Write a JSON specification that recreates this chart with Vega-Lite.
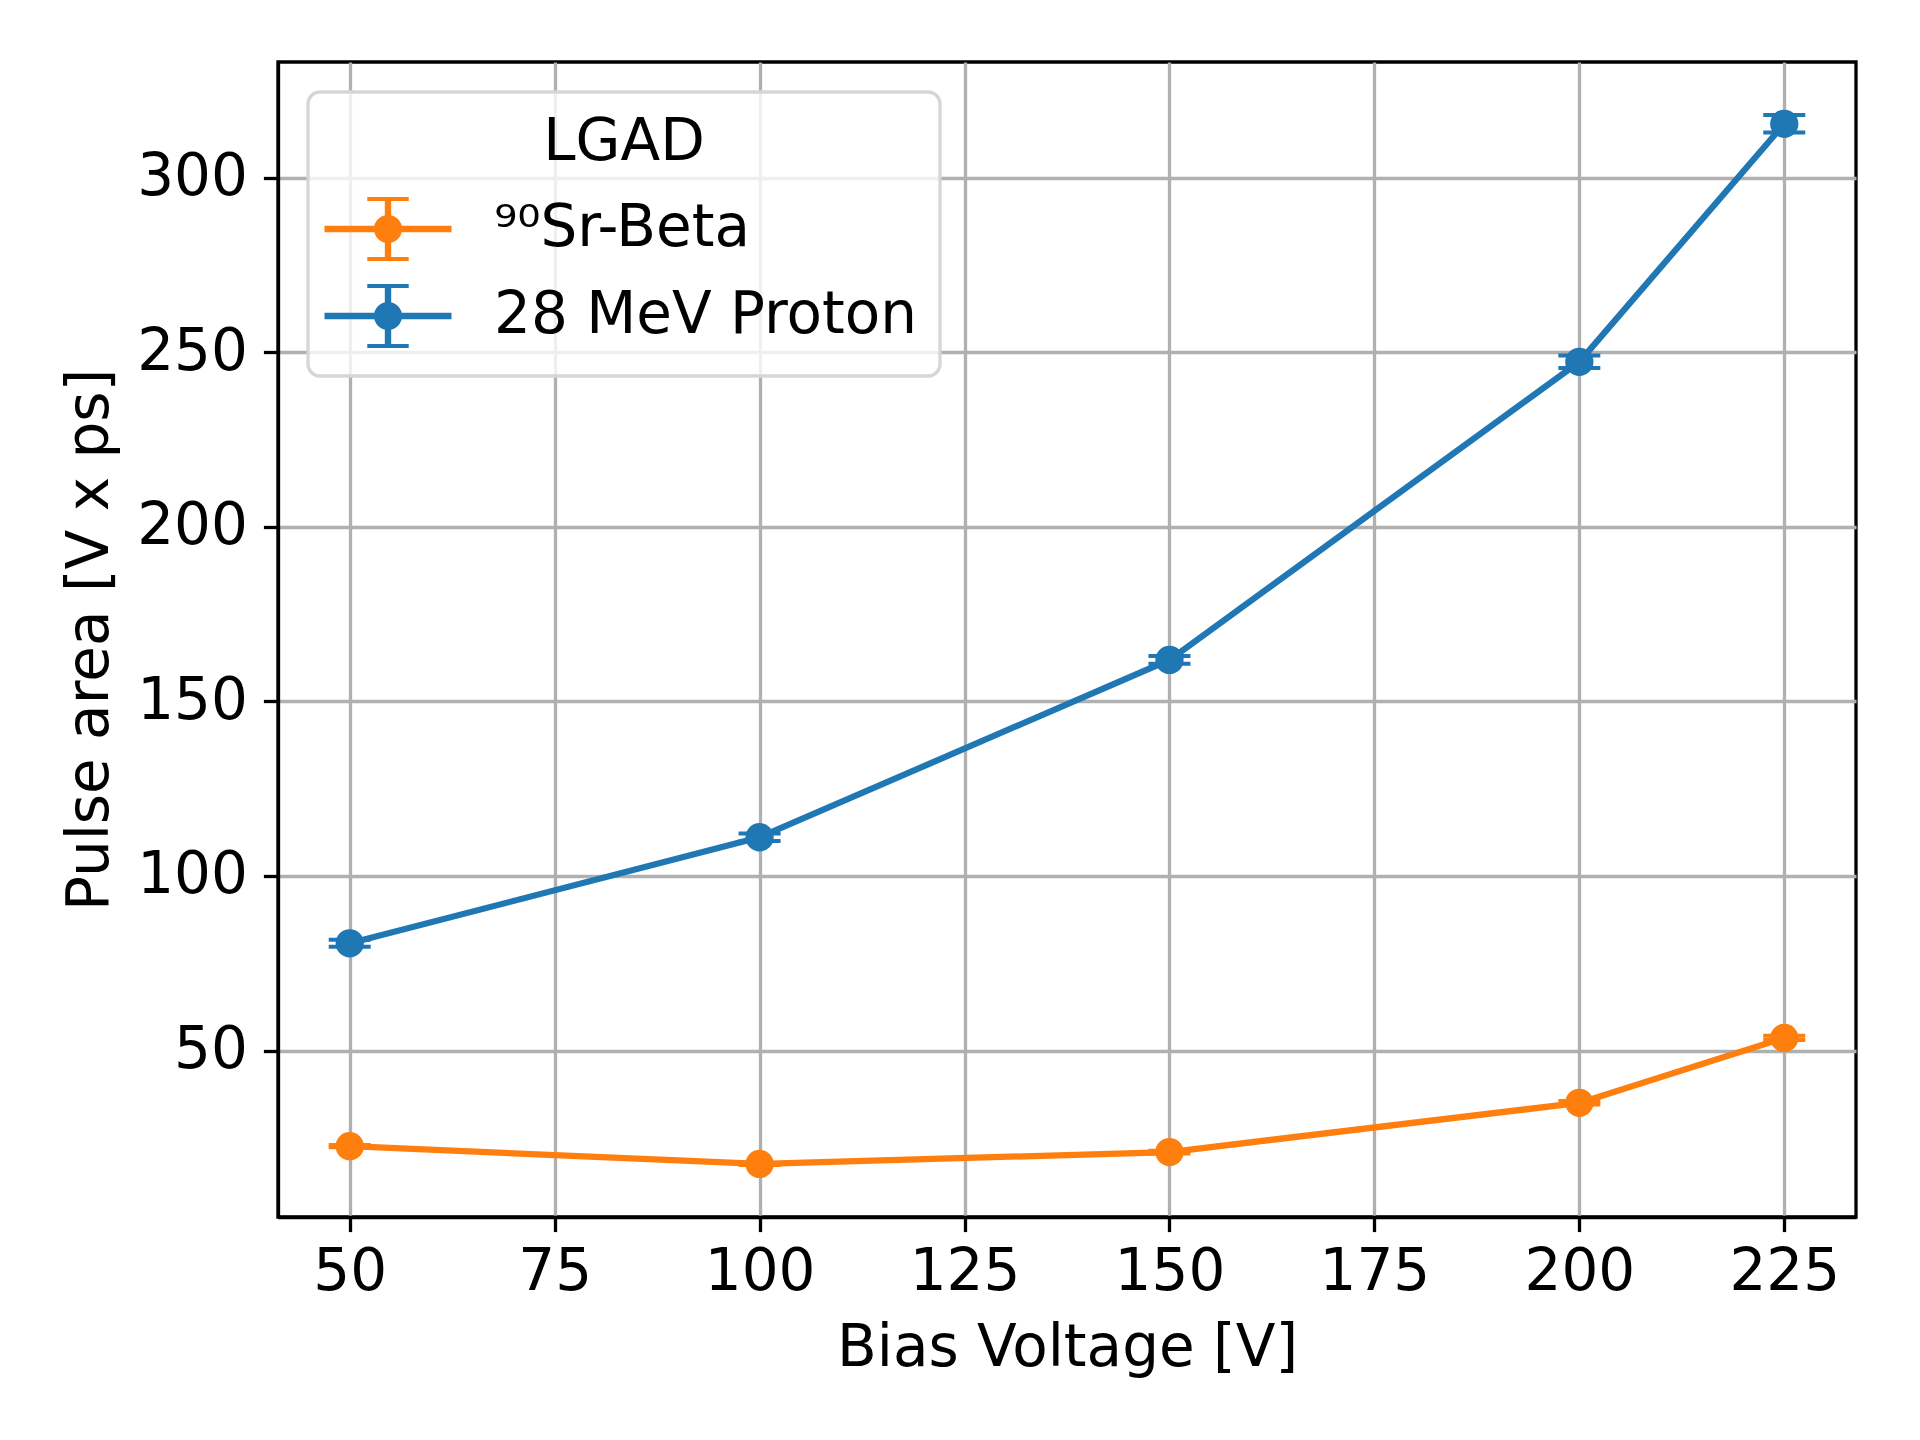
{
  "$schema": "https://vega.github.io/schema/vega-lite/v6.json",
  "width": 1578,
  "height": 1155,
  "autosize": {"type": "none"},
  "padding": {"left": 278, "top": 62, "right": 64, "bottom": 223},
  "background": "white",
  "config": {
    "font": "DejaVu Sans",
    "view": {"stroke": "black", "strokeWidth": 3.3},
    "axis": {
      "domainColor": "black", "domainWidth": 3.3,
      "tickColor": "black", "tickWidth": 3.3, "tickSize": 14.6,
      "labelFont": "DejaVu Sans", "labelFontSize": 58, "labelColor": "black",
      "titleFont": "DejaVu Sans", "titleFontSize": 58, "titleFontWeight": "normal", "titleColor": "black",
      "gridColor": "#b0b0b0", "gridWidth": 3.3, "gridOpacity": 1
    },
    "axisX": {"labelPadding": 12, "titlePadding": 18},
    "axisY": {"labelPadding": 16, "titlePadding": 17},
    "legend": {
      "labelFont": "DejaVu Sans", "labelFontSize": 58, "labelColor": "black", "labelLimit": 1200,
      "titleFont": "DejaVu Sans", "titleFontSize": 58, "titleFontWeight": "normal", "titleColor": "black"
    }
  },
  "data": {
    "values": [
      {"series": "⁹⁰Sr-Beta", "voltage": 50, "area": 22.6, "lo": 22.3, "hi": 22.9},
      {"series": "⁹⁰Sr-Beta", "voltage": 100, "area": 17.5, "lo": 17.2, "hi": 17.8},
      {"series": "⁹⁰Sr-Beta", "voltage": 150, "area": 20.9, "lo": 20.5, "hi": 21.3},
      {"series": "⁹⁰Sr-Beta", "voltage": 200, "area": 35.0, "lo": 34.5, "hi": 35.5},
      {"series": "⁹⁰Sr-Beta", "voltage": 225, "area": 53.6, "lo": 53.0, "hi": 54.2},
      {"series": "28 MeV Proton", "voltage": 50, "area": 80.7, "lo": 79.7, "hi": 81.7},
      {"series": "28 MeV Proton", "voltage": 100, "area": 111.1, "lo": 110.0, "hi": 112.2},
      {"series": "28 MeV Proton", "voltage": 150, "area": 161.9, "lo": 160.8, "hi": 163.0},
      {"series": "28 MeV Proton", "voltage": 200, "area": 247.3, "lo": 245.5, "hi": 249.1},
      {"series": "28 MeV Proton", "voltage": 225, "area": 315.5, "lo": 313.0, "hi": 318.0}
    ]
  },
  "encoding": {
    "x": {
      "field": "voltage", "type": "quantitative", "title": "Bias Voltage [V]",
      "scale": {"domain": [41.25, 233.75], "nice": false, "zero": false},
      "axis": {"values": [50, 75, 100, 125, 150, 175, 200, 225]}
    },
    "color": {
      "field": "series", "type": "nominal",
      "scale": {"domain": ["⁹⁰Sr-Beta", "28 MeV Proton"], "range": ["#ff7f0e", "#1f77b4"]},
      "legend": {
        "title": "LGAD",
        "orient": "none", "legendX": 30, "legendY": 30,
        "padding": 22,
        "titleAnchor": "middle", "titleAlign": "center", "titlePadding": 25,
        "rowPadding": 11,
        "symbolType": "M-2.05,-0.04H2.05V0.04H-2.05Z M-0.04,-1H0.04V1H-0.04Z M-0.69,-1H0.69 M-0.69,1H0.69 M0.4,0A0.4,0.4,0,1,1,-0.4,0A0.4,0.4,0,1,1,0.4,0Z",
        "symbolSize": 3600,
        "symbolStrokeWidth": 4,
        "symbolOffset": 26,
        "labelOffset": 74,
        "fillColor": "rgba(255,255,255,0.8)",
        "strokeColor": "#d6d6d6",
        "cornerRadius": 12,
        "encode": {
          "symbols": {
            "update": {
              "fill": {"scale": "color", "field": "value"},
              "stroke": {"scale": "color", "field": "value"},
              "fillOpacity": {"value": 1},
              "strokeOpacity": {"value": 1}
            }
          },
          "legend": {"update": {"strokeWidth": {"value": 3.3}}}
        }
      }
    }
  },
  "layer": [
    {
      "mark": {"type": "line", "strokeWidth": 6.25},
      "encoding": {
        "y": {
          "field": "area", "type": "quantitative", "title": "Pulse area [V x ps]",
          "scale": {"domain": [2.3, 333.2], "nice": false, "zero": false},
          "axis": {"values": [50, 100, 150, 200, 250, 300]}
        }
      }
    },
    {
      "mark": {"type": "errorbar", "ticks": {"size": 42, "thickness": 4, "opacity": 1}, "rule": {"opacity": 1}, "thickness": 6.25},
      "encoding": {
        "y": {"field": "lo", "type": "quantitative", "title": "Pulse area [V x ps]"},
        "y2": {"field": "hi"}
      }
    },
    {
      "mark": {"type": "point", "filled": true, "shape": "circle", "size": 800, "opacity": 1},
      "encoding": {
        "y": {"field": "area", "type": "quantitative", "title": "Pulse area [V x ps]"}
      }
    }
  ]
}
